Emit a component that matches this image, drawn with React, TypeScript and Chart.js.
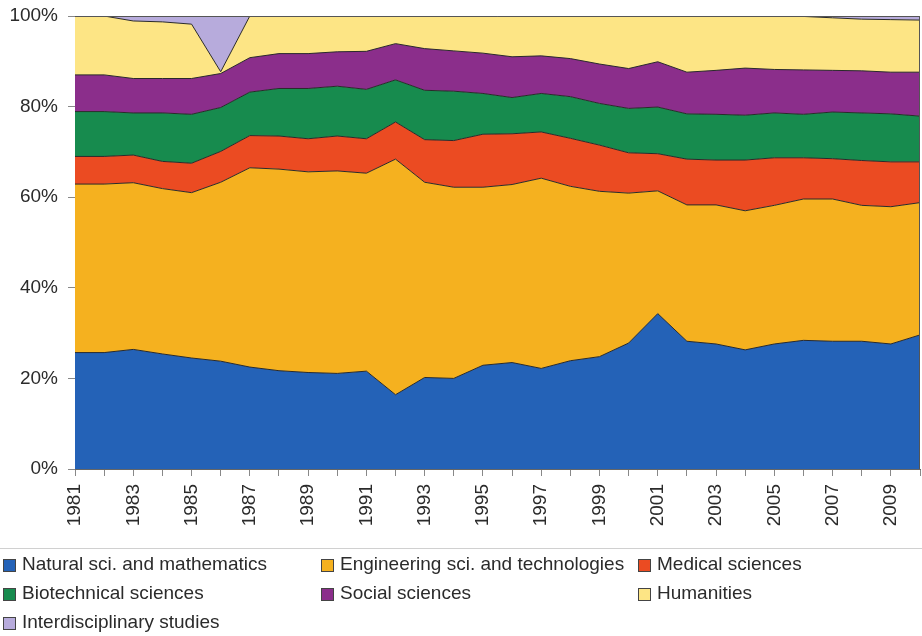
import React, { useEffect, useRef } from "react";
import { Chart, registerables } from "chart.js";

Chart.register(...registerables);

const YEARS = [
  "1981", "1982", "1983", "1984", "1985", "1986", "1987", "1988", "1989", "1990",
  "1991", "1992", "1993", "1994", "1995", "1996", "1997", "1998", "1999", "2000",
  "2001", "2002", "2003", "2004", "2005", "2006", "2007", "2008", "2009", "2010",
];

const NATURAL = [25.7, 25.7, 26.4, 25.4, 24.5, 23.8, 22.5, 21.7, 21.3, 21.1, 21.6, 16.4, 20.2, 20.0, 22.9, 23.5, 22.2, 23.9, 24.8, 27.8, 34.3, 28.2, 27.6, 26.3, 27.6, 28.4, 28.2, 28.2, 27.6, 29.6];
const ENGINEERING = [37.2, 37.2, 36.8, 36.5, 36.5, 39.5, 44.0, 44.5, 44.3, 44.7, 43.7, 52.0, 43.1, 42.2, 39.3, 39.3, 42.0, 38.5, 36.5, 33.1, 27.1, 30.1, 30.7, 30.7, 30.6, 31.2, 31.4, 30.0, 30.3, 29.2];
const MEDICAL = [6.1, 6.1, 6.1, 6.0, 6.5, 6.8, 7.1, 7.3, 7.3, 7.7, 7.6, 8.2, 9.4, 10.3, 11.7, 11.2, 10.2, 10.6, 10.2, 8.9, 8.2, 10.1, 9.9, 11.2, 10.5, 9.1, 8.9, 9.9, 9.9, 9.0];
const BIOTECH = [9.9, 9.9, 9.3, 10.7, 10.8, 9.7, 9.6, 10.5, 11.1, 11.0, 10.9, 9.3, 10.9, 10.9, 9.0, 8.0, 8.5, 9.2, 9.2, 9.8, 10.3, 10.0, 10.1, 9.9, 9.9, 9.6, 10.3, 10.5, 10.6, 10.1];
const SOCIAL = [8.1, 8.1, 7.6, 7.6, 7.9, 7.5, 7.6, 7.7, 7.7, 7.6, 8.4, 8.0, 9.2, 8.9, 8.9, 9.0, 8.3, 8.4, 8.7, 8.8, 10.0, 9.2, 9.7, 10.4, 9.6, 9.8, 9.2, 9.3, 9.2, 9.7];
const HUMANITIES = [13.0, 13.0, 12.7, 12.5, 12.0, 0.4, 9.2, 8.3, 8.3, 7.9, 7.8, 6.1, 7.2, 7.7, 8.2, 9.0, 8.8, 9.4, 10.6, 11.6, 10.1, 12.4, 12.0, 11.5, 11.8, 11.8, 11.6, 11.4, 11.6, 11.5];
const INTERDISC = [0, 0, 1.1, 1.3, 1.8, 12.3, 0, 0, 0, 0, 0, 0, 0, 0, 0, 0, 0, 0, 0, 0, 0, 0, 0, 0, 0, 0.1, 0.4, 0.7, 0.8, 0.9];

const Y_TICKS = [0, 20, 40, 60, 80, 100];

const SERIES = [
  { label: "Natural sci. and mathematics", data: NATURAL, color: "#2462b7" },
  { label: "Engineering sci. and technologies", data: ENGINEERING, color: "#f5b11f" },
  { label: "Medical sciences", data: MEDICAL, color: "#eb4b22" },
  { label: "Biotechnical sciences", data: BIOTECH, color: "#178b4e" },
  { label: "Social sciences", data: SOCIAL, color: "#8b2e8b" },
  { label: "Humanities", data: HUMANITIES, color: "#fde585" },
  { label: "Interdisciplinary studies", data: INTERDISC, color: "#b7abdc" },
];

const FONT = "'Liberation Sans', Arial, Helvetica, sans-serif";
const TEXT = "#2b2b2b";

const framePlugin = {
  id: "frame",
  afterDatasetsDraw(chart: any) {
    const { ctx, chartArea } = chart;
    ctx.save();
    ctx.strokeStyle = "#555";
    ctx.lineWidth = 1;
    ctx.beginPath();
    ctx.moveTo(chartArea.left, chartArea.top + 0.5);
    ctx.lineTo(chartArea.right - 0.5, chartArea.top + 0.5);
    ctx.lineTo(chartArea.right - 0.5, chartArea.bottom);
    ctx.stroke();
    ctx.restore();
  },
};

const legendPlugin = {
  id: "gridLegend",
  afterDraw(chart: any) {
    const { ctx } = chart;
    const colX = [3, 321, 638];
    const rowY = [565, 594, 623];
    ctx.save();
    ctx.strokeStyle = "#d0d0d0";
    ctx.lineWidth = 1;
    ctx.beginPath();
    ctx.moveTo(0, 548.5);
    ctx.lineTo(922, 548.5);
    ctx.stroke();
    ctx.font = `19px ${FONT}`;
    ctx.textBaseline = "middle";
    ctx.textAlign = "left";
    chart.data.datasets.forEach((ds: any, i: number) => {
      const x = colX[i % 3];
      const y = rowY[Math.floor(i / 3)];
      ctx.fillStyle = ds.backgroundColor;
      ctx.fillRect(x, y - 6, 12, 12);
      ctx.strokeStyle = "#444";
      ctx.strokeRect(x + 0.5, y - 5.5, 12, 12);
      ctx.fillStyle = TEXT;
      ctx.fillText(ds.label, x + 19, y);
    });
    ctx.restore();
  },
};

export default function App() {
  const ref = useRef<HTMLCanvasElement>(null);

  useEffect(() => {
    if (!ref.current) return;
    const chart = new Chart(ref.current, {
      type: "line",
      data: {
        labels: YEARS,
        datasets: SERIES.map((s, i) => ({
          label: s.label,
          data: s.data,
          backgroundColor: s.color,
          borderColor: "#2a2a2a",
          borderWidth: 1,
          pointRadius: 0,
          tension: 0,
          fill: i === 0 ? "origin" : "-1",
        })),
      },
      options: {
        animation: false,
        responsive: false,
        maintainAspectRatio: false,
        layout: { padding: { top: 16, right: 2, left: 0, bottom: 0 } },
        plugins: { legend: { display: false }, tooltip: { enabled: false } },
        scales: {
          x: {
            offset: false,
            grid: { drawOnChartArea: false, tickLength: 7, color: "#888" },
            border: { color: "#666" },
            ticks: {
              autoSkip: false,
              minRotation: 90,
              maxRotation: 90,
              padding: 8,
              color: TEXT,
              font: { family: FONT, size: 19 },
              callback: (_v: any, i: number) => (i % 2 === 0 ? YEARS[i] : ""),
            },
            afterFit: (s: any) => {
              s.height = 167;
              s.paddingLeft = 0;
              s.paddingRight = 0;
            },
          },
          y: {
            stacked: true,
            min: 0,
            max: 100,
            afterBuildTicks: (s: any) => {
              s.ticks = Y_TICKS.map((v) => ({ value: v }));
            },
            grid: { drawOnChartArea: false, tickLength: 7, color: "#888" },
            border: { color: "#666" },
            ticks: {
              padding: 10,
              color: TEXT,
              font: { family: FONT, size: 19 },
              callback: (v: any) => `${v}%`,
            },
            afterFit: (s: any) => {
              s.width = 75;
              s.paddingTop = 0;
              s.paddingBottom = 0;
            },
          },
        },
      },
      plugins: [framePlugin, legendPlugin],
    });
    return () => chart.destroy();
  }, []);

  return (
    <div style={{ position: "fixed", left: 0, top: 0, width: 922, height: 636, background: "#fff" }}>
      <canvas ref={ref} width={922} height={636} style={{ width: 922, height: 636, display: "block" }} />
    </div>
  );
}
